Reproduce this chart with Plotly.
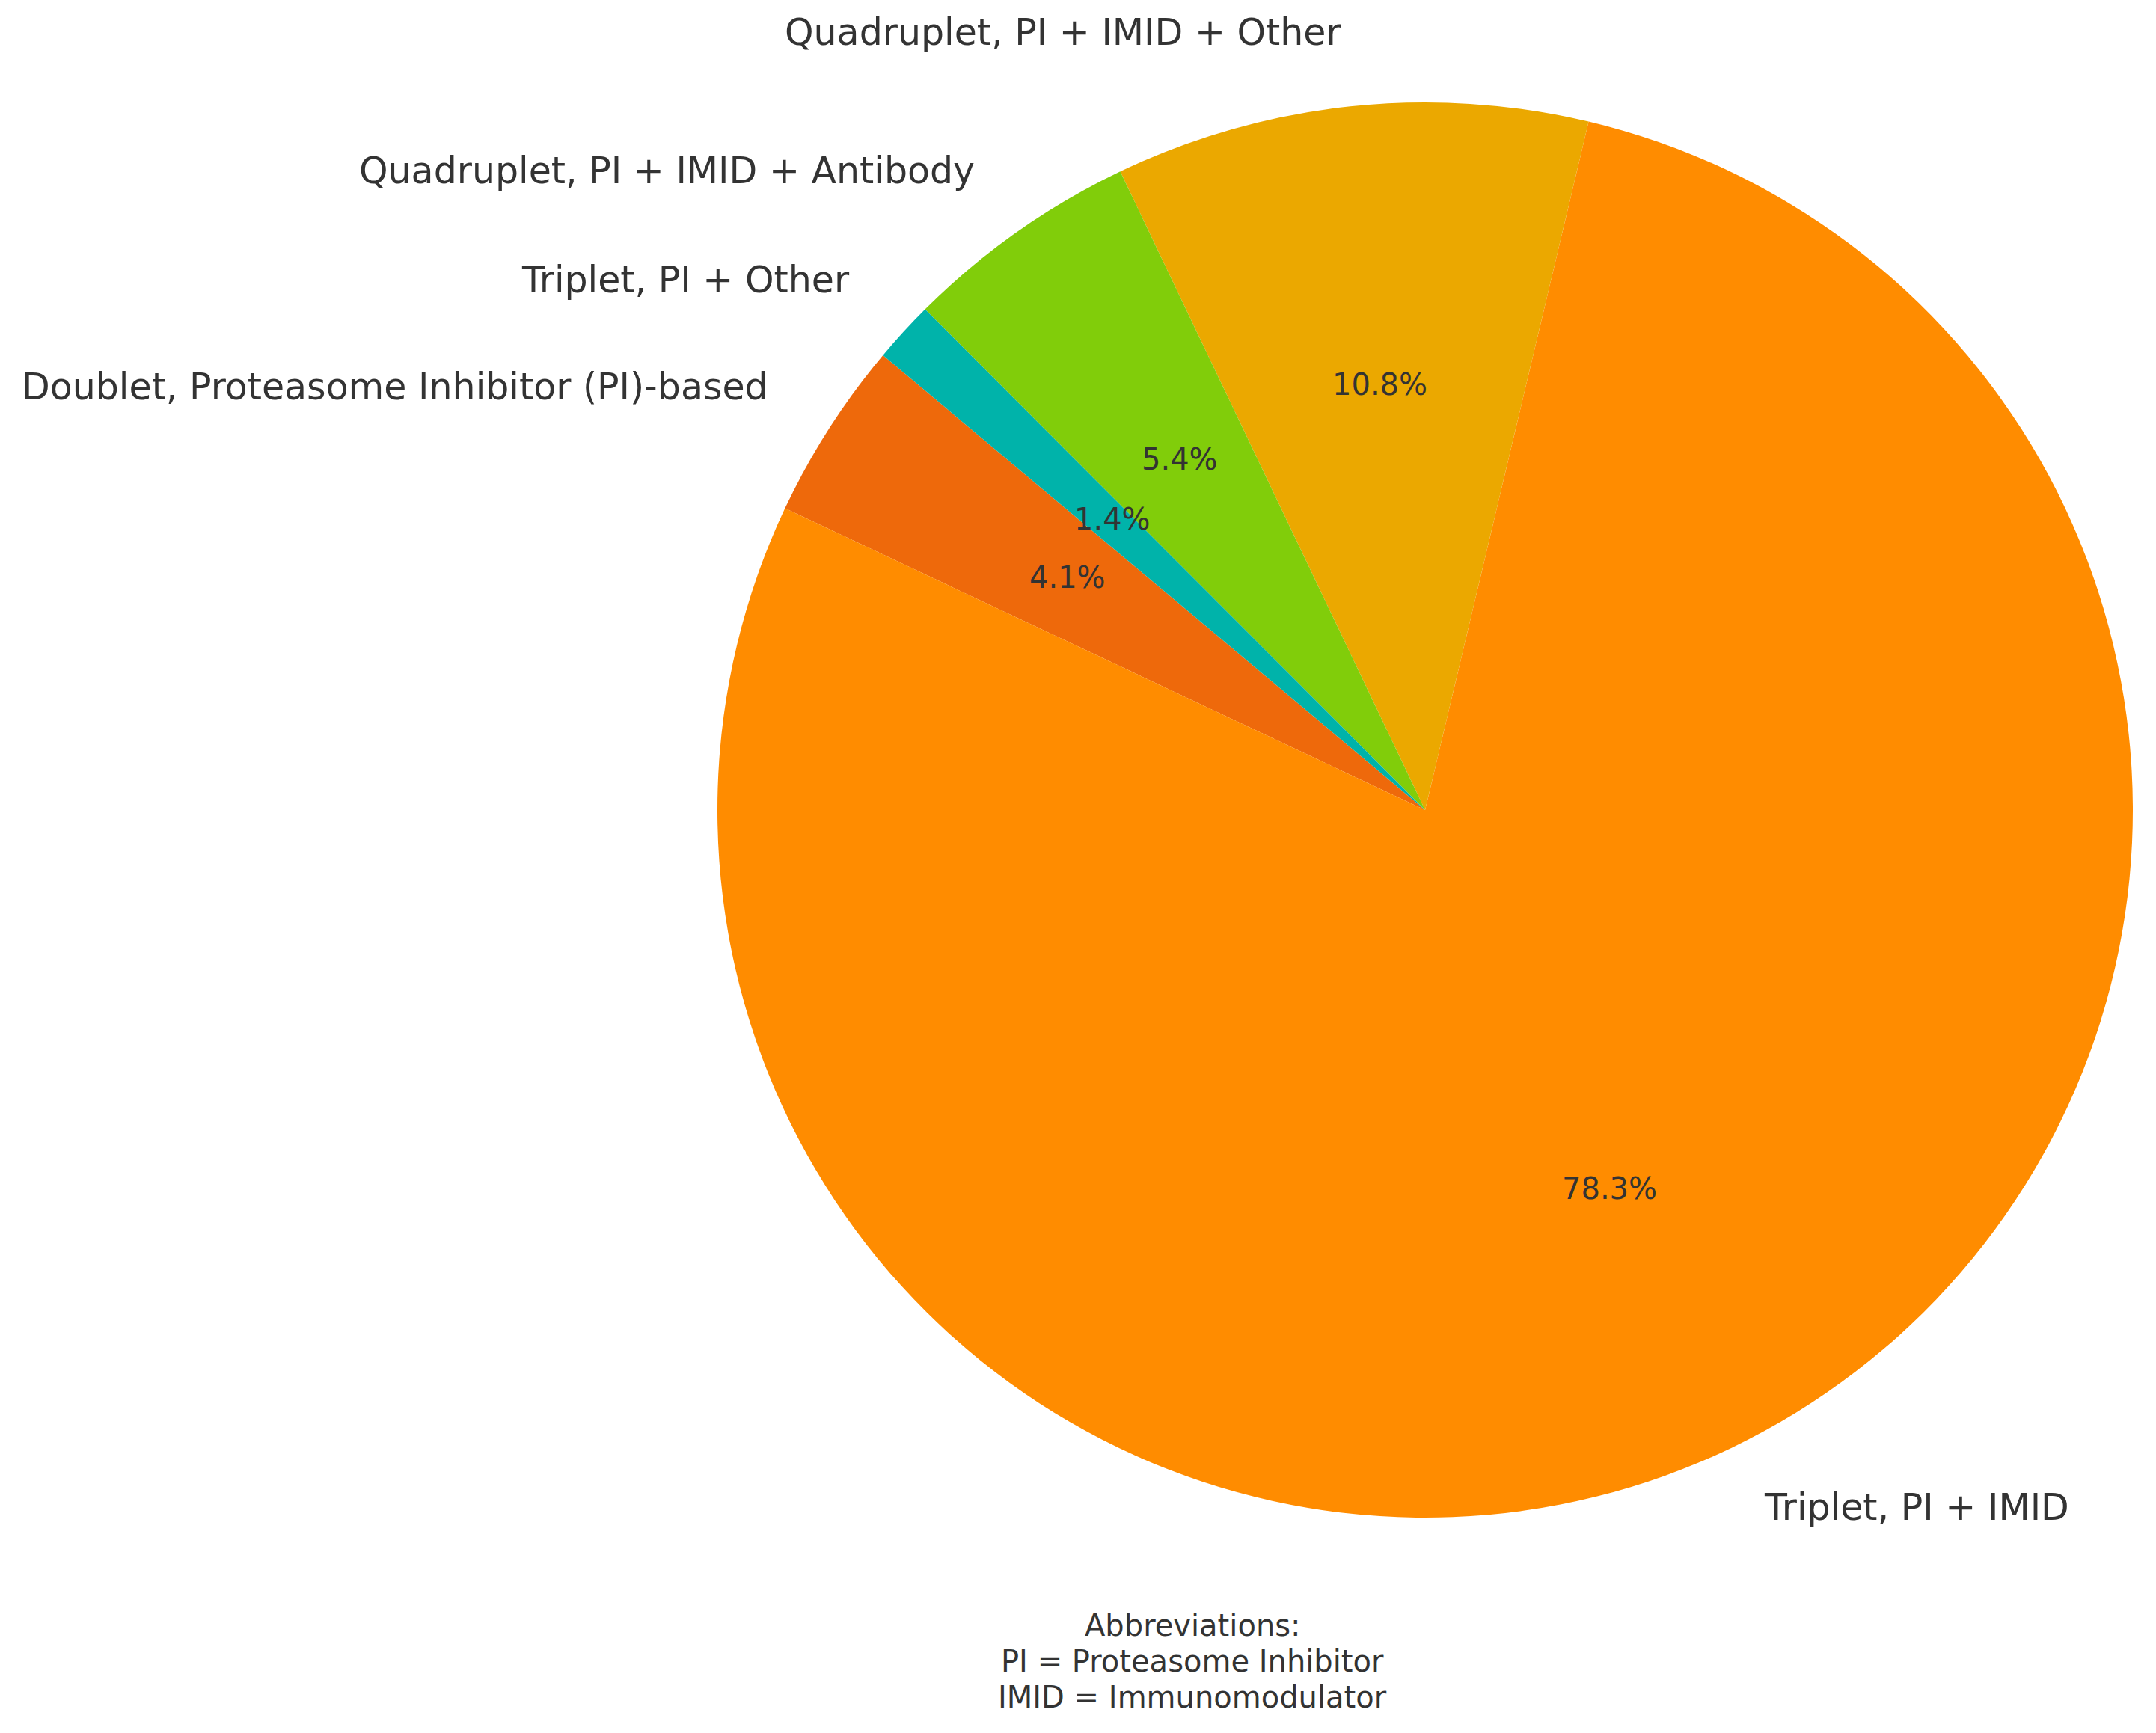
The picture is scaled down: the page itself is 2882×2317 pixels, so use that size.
import math
import plotly.graph_objects as go

# ---- data ----
labels = [
    "Doublet, Proteasome Inhibitor (PI)-based",
    "Triplet, PI + IMID",
    "Quadruplet, PI + IMID + Other",
    "Quadruplet, PI + IMID + Antibody",
    "Triplet, PI + Other",
]
shares = [4.1, 78.3, 10.8, 5.4, 1.4]
colors = ["#EE690B", "#FF8C00", "#EBA800", "#81CD0A", "#00B3AA"]
abbrev_lines = ["Abbreviations:", "PI = Proteasome Inhibitor", "IMID = Immunomodulator"]

# ---- layout geometry ----
W, H = 2882, 2317
cx, cy, R = 1897, 1075, 946          # pie centre / radius in pixels
start_angle = 140                    # degrees, counter-clockwise from 3 o'clock
label_dist, pct_dist = 1.1, 0.6
text_color = "#333333"
font_family = "DejaVu Sans"
text_yshift = 5

total = sum(shares)
# plotly: counterclockwise; first slice ends (cw sense) at 'rotation'
rotation = 90 - start_angle - 360 * shares[0] / total

fig = go.Figure(go.Pie(
    labels=labels,
    values=shares,
    sort=False,
    direction="counterclockwise",
    rotation=rotation,
    marker=dict(colors=colors, line=dict(width=0)),
    textinfo="none",
    hoverinfo="label+percent",
    showlegend=False,
    domain=dict(x=[(cx - R) / W, (cx + R) / W], y=[1 - (cy + R) / H, 1 - (cy - R) / H]),
))

annotations = []
cum = 0.0
for lab, v in zip(labels, shares):
    mid = math.radians(start_angle + 360 * (cum + v / 2) / total)
    cum += v
    c, s = math.cos(mid), math.sin(mid)
    # outer label
    lx = cx + label_dist * R * c
    ly = cy - label_dist * R * s
    annotations.append(dict(
        x=lx / W, y=1 - ly / H, xref="paper", yref="paper",
        text=lab, showarrow=False, yshift=text_yshift,
        xanchor="left" if c >= 0 else "right", yanchor="middle",
        font=dict(family=font_family, size=49, color=text_color),
    ))
    # percentage label
    px = cx + pct_dist * R * c
    py = cy - pct_dist * R * s
    annotations.append(dict(
        x=px / W, y=1 - py / H, xref="paper", yref="paper",
        text=f"{100 * v / total:.1f}%", showarrow=False, yshift=text_yshift,
        xanchor="center", yanchor="middle",
        font=dict(family=font_family, size=40, color=text_color),
    ))

abbrev_x = 1586
abbrev_y0, abbrev_step = 2165, 48
for i, line in enumerate(abbrev_lines):
    annotations.append(dict(
        x=abbrev_x / W, y=1 - (abbrev_y0 + i * abbrev_step) / H,
        xref="paper", yref="paper", text=line, showarrow=False,
        xanchor="center", yanchor="middle",
        font=dict(family=font_family, size=40, color=text_color),
    ))

fig.update_layout(
    width=W, height=H,
    margin=dict(l=0, r=0, t=0, b=0),
    paper_bgcolor="white", plot_bgcolor="white",
    annotations=annotations,
)

fig.write_html("out.html")
